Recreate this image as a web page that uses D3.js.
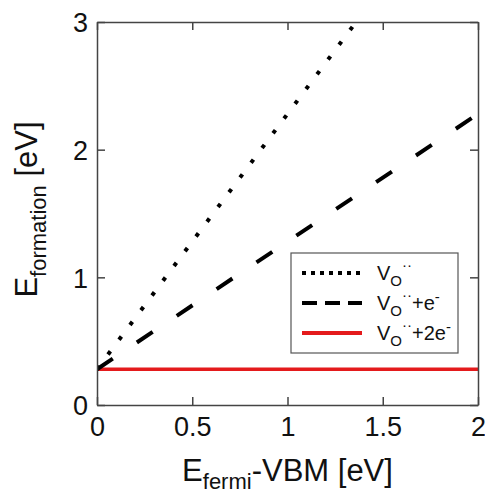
<!DOCTYPE html>
<html>
<head>
<meta charset="utf-8">
<script src="https://cdn.jsdelivr.net/npm/d3@7"></script>
<style>
  body { margin: 0; background: #fff; }
  text { font-family: "Liberation Sans", Arial, sans-serif; fill: #111; }
</style>
</head>
<body>
<div id="chart"></div>
<script>
// values
const xTicks = [0, 0.5, 1, 1.5, 2];
const yTicks = [0, 1, 2, 3];
const xTickLabels = ['0', '0.5', '1', '1.5', '2'];
const yTickLabels = ['0', '1', '2', '3'];

const dottedX = [0, 1.36];
const dottedY = [0.28, 3.0];
const dashedX = [0, 2];
const dashedY = [0.28, 2.28];
const redX = [0, 2];
const redY = [0.28, 0.28];

let width = 485, height = 493;
let margin = {left: 97, right: 7, top: 22, bottom: 88};

let svg = d3.select('#chart').append('svg')
    .attr('width', width)
    .attr('height', height);

let x = d3.scaleLinear().domain([0, 2]).range([margin.left, width - margin.right]);
let y = d3.scaleLinear().domain([0, 3]).range([height - margin.bottom, margin.top]);

let axisColor = '#444';
let tickLen = 8;

// clip so lines stay inside the box
svg.append('clipPath').attr('id', 'clip')
    .append('rect')
    .attr('x', x(0)).attr('y', y(3))
    .attr('width', x(2) - x(0)).attr('height', y(0) - y(3));

let line = d3.line().x(d => x(d[0])).y(d => y(d[1]));
let zip = (a, b) => a.map((v, i) => [v, b[i]]);

let plot = svg.append('g').attr('clip-path', 'url(#clip)');

plot.append('path')
    .attr('d', line(zip(redX, redY)))
    .attr('fill', 'none')
    .attr('stroke', '#e41a1c')
    .attr('stroke-width', 3.5);

plot.append('path')
    .attr('d', line(zip(dashedX, dashedY)))
    .attr('fill', 'none')
    .attr('stroke', '#000')
    .attr('stroke-width', 4)
    .attr('stroke-dasharray', '19 29');

plot.append('path')
    .attr('d', line(zip(dottedX, dottedY)))
    .attr('fill', 'none')
    .attr('stroke', '#000')
    .attr('stroke-width', 4)
    .attr('stroke-dasharray', '4 14.4');

// axes box with inward ticks on all four sides
let axB = d3.axisBottom(x).tickValues(xTicks).tickSizeInner(-tickLen).tickSizeOuter(0)
    .tickFormat((d, i) => xTickLabels[i]);
let axT = d3.axisTop(x).tickValues(xTicks).tickSizeInner(-tickLen).tickSizeOuter(0).tickFormat('');
let axL = d3.axisLeft(y).tickValues(yTicks).tickSizeInner(-tickLen).tickSizeOuter(0)
    .tickFormat((d, i) => yTickLabels[i]);
let axR = d3.axisRight(y).tickValues(yTicks).tickSizeInner(-tickLen).tickSizeOuter(0).tickFormat('');

let gB = svg.append('g').attr('transform', `translate(0,${y(0)})`).call(axB);
let gT = svg.append('g').attr('transform', `translate(0,${y(3)})`).call(axT);
let gL = svg.append('g').attr('transform', `translate(${x(0)},0)`).call(axL);
let gR = svg.append('g').attr('transform', `translate(${x(2)},0)`).call(axR);

[gB, gT, gL, gR].forEach(g => {
    g.selectAll('path, line').attr('stroke', axisColor).attr('stroke-width', 1.5);
    g.selectAll('text').style('font-size', '27px').attr('fill', '#111')
        .style('font-family', '"Liberation Sans", Arial, sans-serif');
});
gB.selectAll('text').attr('dy', null).attr('y', 31);
gL.selectAll('text').attr('x', -9).attr('dy', '0.36em');

// axis titles
let xt = svg.append('text')
    .attr('x', (x(0) + x(2)) / 2)
    .attr('y', 481)
    .attr('text-anchor', 'middle')
    .style('font-size', '31px');
xt.append('tspan').text('E');
xt.append('tspan').text('fermi').style('font-size', '22px').attr('dy', 8);
xt.append('tspan').text('-VBM [eV]').attr('dy', -8);

let yt = svg.append('text')
    .attr('transform', `translate(37,${(y(0) + y(3)) / 2 - 4}) rotate(-90)`)
    .attr('text-anchor', 'middle')
    .style('font-size', '31px');
yt.append('tspan').text('E');
yt.append('tspan').text('formation').style('font-size', '22px').attr('dy', 9);
yt.append('tspan').text(' [eV]').attr('dy', -9);

// legend
const legendLabels = [['', ''], ['+e', '-'], ['+2e', '-']];
const legendDash = ['4 5', '15 8', null];
const legendColor = ['#000', '#000', '#e41a1c'];

let lg = svg.append('g');
lg.append('rect')
    .attr('x', 291).attr('y', 253)
    .attr('width', 167).attr('height', 100)
    .attr('fill', '#fff')
    .attr('stroke', '#555')
    .attr('stroke-width', 1.2);

legendLabels.forEach((lab, i) => {
    let cy = 273 + i * 30;
    lg.append('line')
        .attr('x1', 302).attr('x2', 362)
        .attr('y1', cy).attr('y2', cy)
        .attr('stroke', legendColor[i])
        .attr('stroke-width', 4)
        .attr('stroke-dasharray', legendDash[i]);
    let t = lg.append('text')
        .attr('x', 377).attr('y', cy + 7)
        .style('font-size', '20px');
    t.append('tspan').text('V');
    t.append('tspan').text('O').style('font-size', '15px').attr('dy', 6);
    t.append('tspan').text('··').style('font-size', '15px').attr('dy', -16);
    if (lab[0]) {
        t.append('tspan').text(lab[0]).attr('dy', 10);
        t.append('tspan').text(lab[1]).style('font-size', '15px').attr('dy', -8);
    }
});
</script>
</body>
</html>
